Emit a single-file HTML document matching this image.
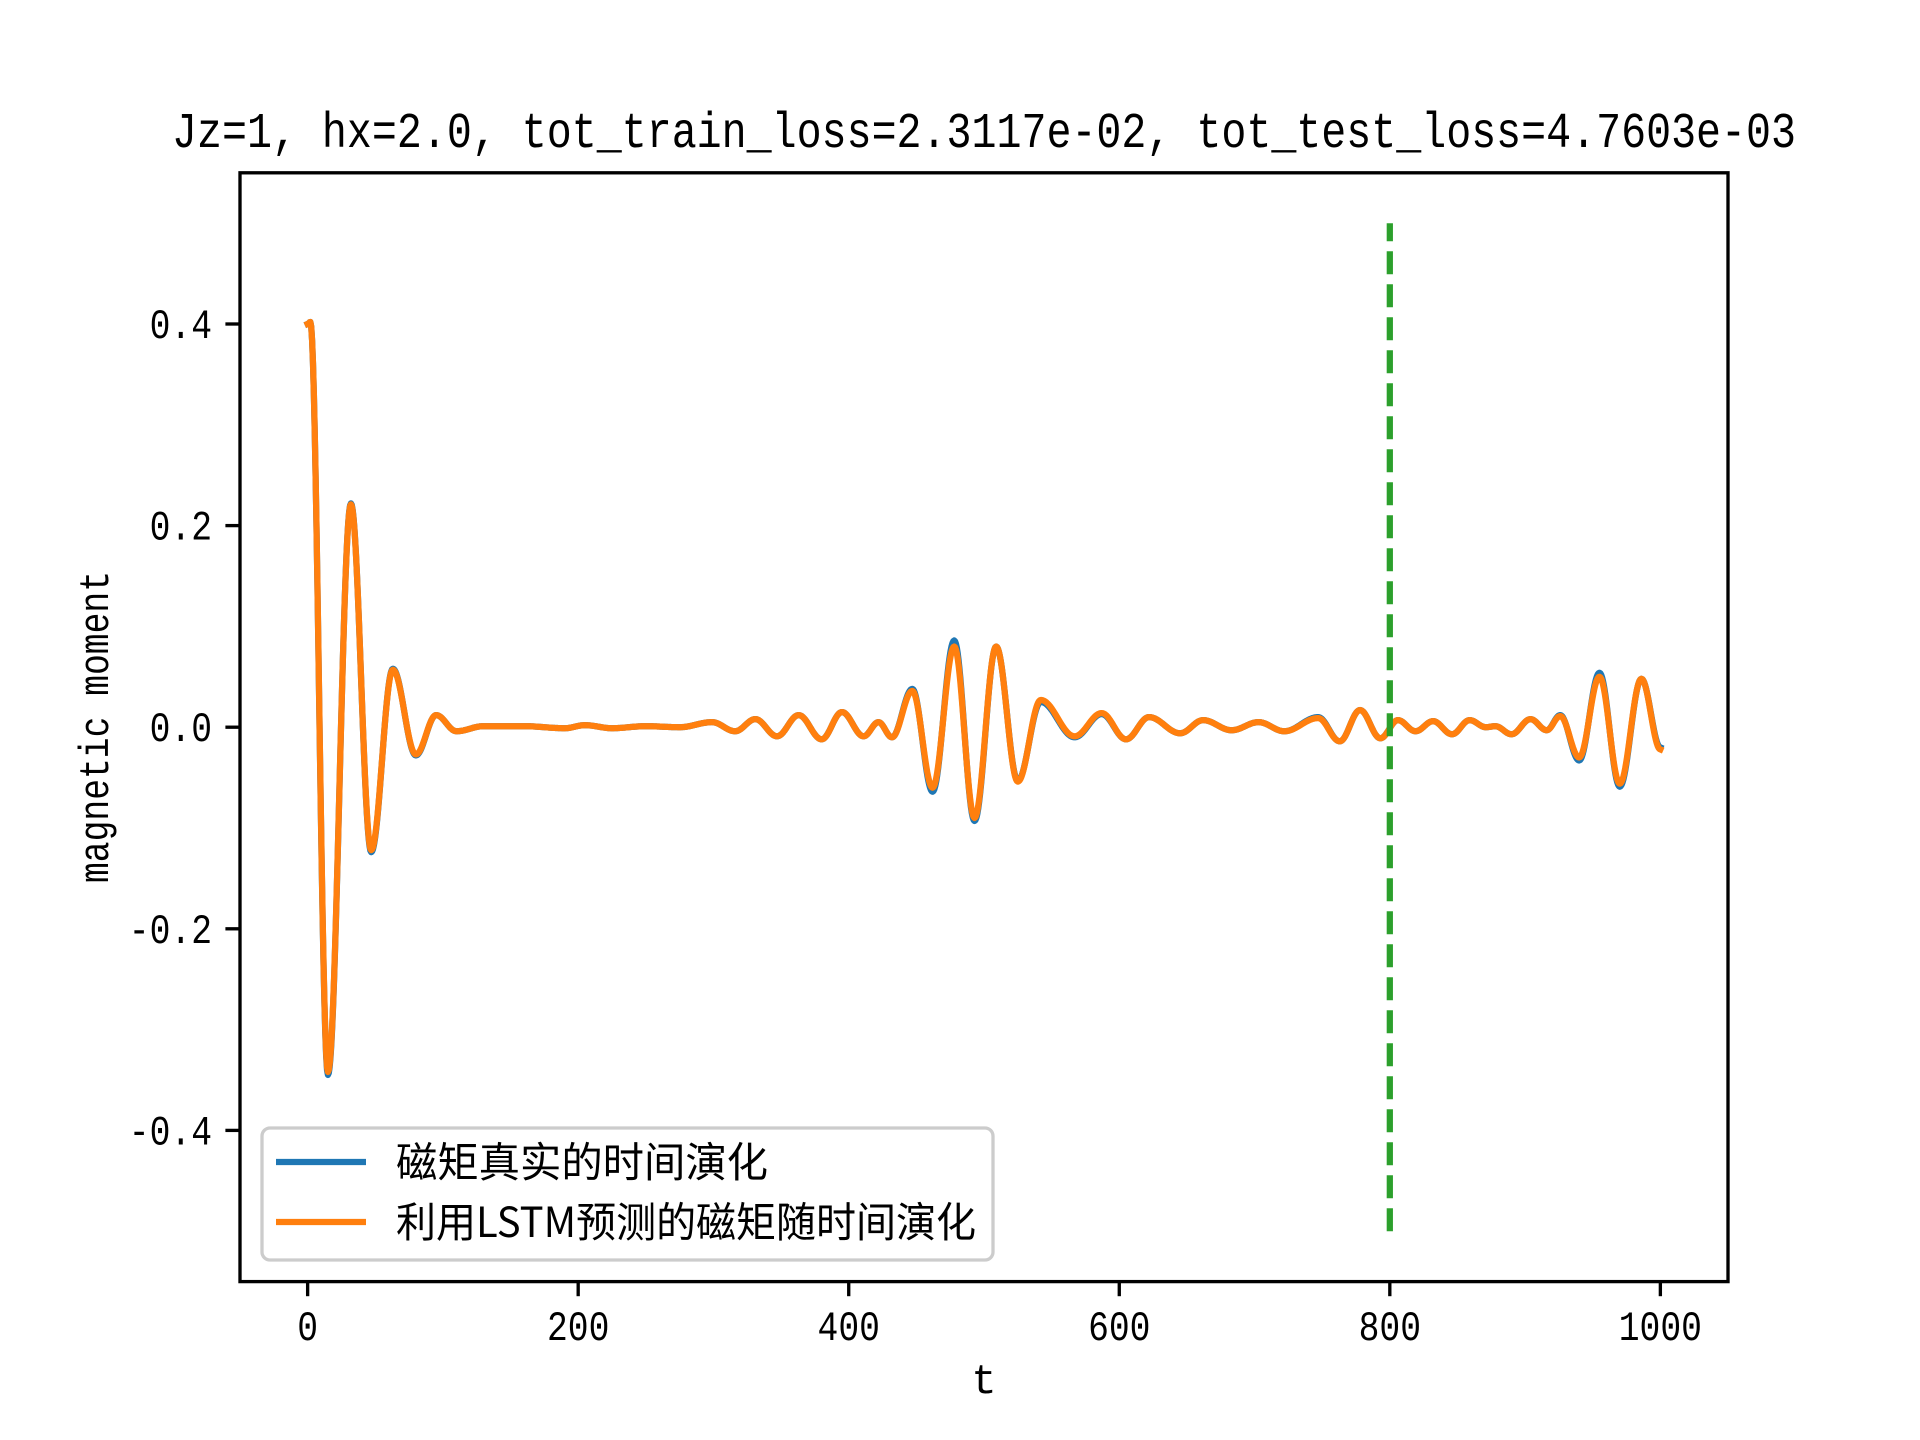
<!DOCTYPE html>
<html><head><meta charset="utf-8">
<style>
html,body{margin:0;padding:0;background:#fff;}
svg{display:block;}
text{font-family:"Liberation Mono","WenQuanYi Zen Hei","Noto Sans CJK SC",monospace;fill:#000;}
.cjk{font-family:"WenQuanYi Zen Hei","Noto Sans CJK SC",sans-serif;}
</style></head>
<body>
<svg id="chart" width="1920" height="1440" viewBox="0 0 1920 1440" xmlns="http://www.w3.org/2000/svg">
<rect x="0" y="0" width="1920" height="1440" fill="#fff"/>
<text x="984" y="147" font-size="50" text-anchor="middle" textLength="1624" lengthAdjust="spacingAndGlyphs">Jz=1, hx=2.0, tot_train_loss=2.3117e-02, tot_test_loss=4.7603e-03</text>
<g id="plot"></g>
<g id="axes"></g>
<text x="984" y="1393" font-size="42" text-anchor="middle">t</text>
<text transform="translate(108,727) rotate(-90)" font-size="42" text-anchor="middle" textLength="312" lengthAdjust="spacingAndGlyphs">magnetic moment</text>
<g>
<rect x="262" y="1128" width="731" height="132" rx="8" fill="#fff" fill-opacity="0.8" stroke="#cccccc" stroke-width="3.3"/>
<line x1="276" y1="1162" x2="366" y2="1162" stroke="#1f77b4" stroke-width="6.25"/>
<text class="cjk" x="396" y="1177" font-size="41.7" textLength="372" lengthAdjust="spacingAndGlyphs">磁矩真实的时间演化</text>
<line x1="276" y1="1222" x2="366" y2="1222" stroke="#ff7f0e" stroke-width="6.25"/>
<text class="cjk" x="396" y="1237" font-size="41.7" textLength="580" lengthAdjust="spacingAndGlyphs">利用LSTM预测的磁矩随时间演化</text>
</g>
</svg>
<script>
const tValues = [0,2,15,32,47,63,80,95,110,130,160,190,205,225,250,275,299,316,331,347,363,380,395,411,422,432,447,462,478,493,509,525,542,567,587,605,622,645,662,683,703,722,747,763,778,793,806,819,832,846,859,871,878,890,904,916,926,940,955,970,986,1000];
const lstmValues = [0.400,0.402,-0.342,0.221,-0.122,0.057,-0.027,0.012,-0.004,0.001,0.001,-0.001,0.002,-0.001,0.001,0.000,0.005,-0.004,0.008,-0.009,0.012,-0.012,0.015,-0.009,0.005,-0.010,0.036,-0.060,0.080,-0.090,0.080,-0.054,0.027,-0.009,0.014,-0.012,0.010,-0.006,0.007,-0.003,0.005,-0.004,0.009,-0.014,0.017,-0.011,0.007,-0.004,0.006,-0.007,0.007,0.000,0.001,-0.007,0.008,-0.003,0.011,-0.030,0.050,-0.056,0.048,-0.022];
const trueValues = [0.400,0.402,-0.345,0.222,-0.124,0.058,-0.028,0.012,-0.004,0.001,0.001,-0.001,0.002,-0.001,0.001,0.000,0.005,-0.004,0.008,-0.009,0.012,-0.012,0.015,-0.009,0.005,-0.010,0.038,-0.064,0.086,-0.093,0.080,-0.053,0.025,-0.010,0.013,-0.012,0.010,-0.006,0.007,-0.003,0.005,-0.004,0.010,-0.014,0.017,-0.011,0.007,-0.004,0.006,-0.007,0.007,0.000,0.001,-0.007,0.008,-0.003,0.012,-0.033,0.054,-0.059,0.048,-0.020];
const xTicks = [0,200,400,600,800,1000];
const yTicks = [-0.4,-0.2,0.0,0.2,0.4];
const yTickLabels = ["-0.4","-0.2","0.0","0.2","0.4"];
const splitT = [800];
const splitRange = [-0.5,0.5];

const NS="http://www.w3.org/2000/svg";
const L=240,R=1728,T=172.8,B=1281.6;
const xMin=-50,xMax=1050,yMin=-0.55,yMax=0.55;
function xs(v){return L+(v-xMin)/(xMax-xMin)*(R-L);}
function ys(v){return B-(v-yMin)/(yMax-yMin)*(B-T);}
function mk(tag,attrs,parent){const e=document.createElementNS(NS,tag);for(const k in attrs)e.setAttribute(k,attrs[k]);parent.appendChild(e);return e;}
const plot=document.getElementById('plot'), axes=document.getElementById('axes');

function pathFor(vals){
  let d="M"+xs(tValues[0]).toFixed(2)+","+ys(vals[0]).toFixed(2);
  for(let i=0;i<tValues.length-1;i++){
    const t0=tValues[i],t1=tValues[i+1],v0=vals[i],v1=vals[i+1];
    const n=Math.max(4,Math.ceil((t1-t0)*1.5));
    for(let k=1;k<=n;k++){
      const f=k/n, s=(1-Math.cos(Math.PI*f))/2;
      const t=t0+(t1-t0)*f, v=v0+(v1-v0)*s;
      d+=" L"+xs(t).toFixed(2)+","+ys(v).toFixed(2);
    }
  }
  return d;
}
const p1=mk('path',{d:pathFor(trueValues),fill:'none',stroke:'#1f77b4','stroke-width':6.25,'stroke-linejoin':'round','stroke-linecap':'square'},plot);


const p2=mk('path',{d:pathFor(lstmValues),fill:'none',stroke:'#ff7f0e','stroke-width':6.25,'stroke-linejoin':'round','stroke-linecap':'square'},plot);


splitT.forEach(function(s){
  const ln=mk('line',{x1:xs(s),x2:xs(s),y1:ys(splitRange[0]),y2:ys(splitRange[1]),stroke:'#2ca02c','stroke-width':6.25,'stroke-dasharray':'23 10'},plot);
  
  
});

const frame=mk('rect',{x:L,y:T,width:R-L,height:B-T,fill:'none',stroke:'#000','stroke-width':3.33},axes);


xTicks.forEach(function(v){
  const tk=mk('line',{x1:xs(v),x2:xs(v),y1:B,y2:B+14.6,stroke:'#000','stroke-width':3.33},axes);
  
  
  const s=String(v);
  const tx=mk('text',{x:xs(v),y:1340,'font-size':42,'text-anchor':'middle',textLength:s.length*20.8,lengthAdjust:'spacingAndGlyphs'},axes);
  tx.textContent=s;
  
  
});
yTicks.forEach(function(v,i){
  const tk=mk('line',{x1:L-14.6,x2:L,y1:ys(v),y2:ys(v),stroke:'#000','stroke-width':3.33},axes);
  
  
  const s=yTickLabels[i];
  const tx=mk('text',{x:212,y:ys(v)+14,'font-size':42,'text-anchor':'end',textLength:s.length*20.8,lengthAdjust:'spacingAndGlyphs'},axes);
  tx.textContent=s;
  
  
});
</script>
</body></html>
